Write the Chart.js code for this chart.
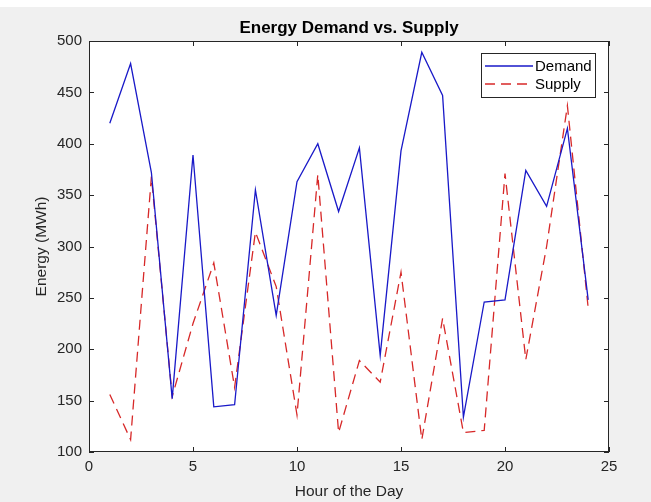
<!DOCTYPE html>
<html>
<head>
<meta charset="utf-8">
<script src="https://cdn.jsdelivr.net/npm/chart.js@4"></script>
<style>
    html, body { margin: 0; padding: 0; background: #ffffff; }
    #wrap { width: 651px; height: 502px; }
</style>
</head>
<body>
<div id="wrap"><canvas id="chart" width="651" height="502"></canvas></div>
<script>
// Data
const hours = [1, 2, 3, 4, 5, 6, 7, 8, 9, 10, 11, 12, 13, 14, 15, 16, 17, 18, 19, 20, 21, 22, 23, 24];
const demand = [420, 478, 372, 152, 389, 144, 146, 355, 233, 363, 400, 334, 396, 194, 393, 489, 447, 134, 246, 248, 374, 339, 415, 248];
const supply = [156, 112, 368, 154, 225, 284, 163, 314, 261, 136, 370, 119, 189, 168, 275, 112, 230, 119, 121, 371, 190, 300, 437, 240];
const xTicks = [0, 5, 10, 15, 20, 25];
const yTicks = [100, 150, 200, 250, 300, 350, 400, 450, 500];

const axisColor = '#262626';
const fontFamily = '"Liberation Sans", Arial, Helvetica, sans-serif';

function toPoints(values) {
    return hours.map((h, i) => ({ x: h, y: values[i] }));
}

// Figure background, axes box, inward ticks, title and legend (MATLAB look)
const matlabFrame = {
    id: 'matlabFrame',
    beforeDraw(chart) {
        const { ctx, width, height, chartArea: a } = chart;
        ctx.save();
        ctx.fillStyle = '#f0f0f0';
        ctx.fillRect(0, 7, width, height - 7);
        ctx.fillStyle = '#ffffff';
        ctx.fillRect(a.left, a.top, a.right - a.left, a.bottom - a.top);
        ctx.restore();
    },
    afterDraw(chart) {
        const { ctx, chartArea: a, scales } = chart;
        ctx.save();
        ctx.strokeStyle = axisColor;
        ctx.lineWidth = 1;
        ctx.strokeRect(a.left + 0.5, a.top + 0.5, a.right - a.left - 1, a.bottom - a.top - 1);

        // inward tick marks
        ctx.beginPath();
        xTicks.forEach(v => {
            const px = Math.round(scales.x.getPixelForValue(v)) + 0.5;
            ctx.moveTo(px, a.bottom); ctx.lineTo(px, a.bottom - 5);
            ctx.moveTo(px, a.top); ctx.lineTo(px, a.top + 5);
        });
        yTicks.forEach(v => {
            const py = Math.round(scales.y.getPixelForValue(v)) + 0.5;
            ctx.moveTo(a.left, py); ctx.lineTo(a.left + 5, py);
            ctx.moveTo(a.right, py); ctx.lineTo(a.right - 5, py);
        });
        ctx.stroke();

        // title centred over the axes
        ctx.fillStyle = '#000000';
        ctx.font = 'bold 17px ' + fontFamily;
        ctx.textAlign = 'center';
        ctx.textBaseline = 'alphabetic';
        ctx.fillText('Energy Demand vs. Supply', (a.left + a.right) / 2, 33);

        // legend box in the top right corner
        const bx = 481, by = 53, bw = 114, bh = 44;
        ctx.fillStyle = '#ffffff';
        ctx.fillRect(bx, by, bw, bh);
        ctx.strokeStyle = axisColor;
        ctx.strokeRect(bx + 0.5, by + 0.5, bw, bh);
        ctx.font = '15px ' + fontFamily;
        ctx.textAlign = 'left';
        ctx.textBaseline = 'middle';
        chart.data.datasets.forEach((ds, i) => {
            const ly = by + 13 + i * 18;
            ctx.beginPath();
            ctx.strokeStyle = ds.borderColor;
            ctx.lineWidth = ds.borderWidth;
            ctx.setLineDash(ds.borderDash || []);
            ctx.moveTo(bx + 4, ly);
            ctx.lineTo(bx + 52, ly);
            ctx.stroke();
            ctx.setLineDash([]);
            ctx.fillStyle = '#000000';
            ctx.fillText(ds.label, bx + 54, ly + 1);
        });
        ctx.restore();
    }
};

new Chart(document.getElementById('chart'), {
    type: 'line',
    data: {
        datasets: [
            {
                label: 'Demand',
                data: toPoints(demand),
                borderColor: 'rgb(25, 25, 200)',
                borderWidth: 1.3,
                pointRadius: 0,
                tension: 0,
                fill: false
            },
            {
                label: 'Supply',
                data: toPoints(supply),
                borderColor: 'rgb(215, 40, 40)',
                borderWidth: 1.3,
                borderDash: [10, 6],
                pointRadius: 0,
                tension: 0,
                fill: false
            }
        ]
    },
    options: {
        responsive: false,
        animation: false,
        layout: { padding: { left: 0, top: 41, right: 42, bottom: 0 } },
        plugins: {
            legend: { display: false },
            title: { display: false },
            tooltip: { enabled: false }
        },
        scales: {
            x: {
                type: 'linear',
                min: 0,
                max: 25,
                afterBuildTicks(scale) { scale.ticks = xTicks.map(v => ({ value: v })); },
                afterFit(scale) { scale.height = 50; },
                grid: { display: false, drawTicks: false },
                border: { display: false },
                ticks: { color: axisColor, padding: 6, font: { family: fontFamily, size: 15 } },
                title: {
                    display: true,
                    text: 'Hour of the Day',
                    color: axisColor,
                    padding: { top: 0, bottom: 1 },
                    font: { family: fontFamily, size: 15.5 }
                }
            },
            y: {
                min: 100,
                max: 500,
                afterBuildTicks(scale) { scale.ticks = yTicks.map(v => ({ value: v })); },
                afterFit(scale) { scale.width = 89; },
                grid: { display: false, drawTicks: false },
                border: { display: false },
                ticks: { color: axisColor, padding: 7, font: { family: fontFamily, size: 15 } },
                title: {
                    display: true,
                    text: 'Energy (MWh)',
                    color: axisColor,
                    padding: { top: 32, bottom: 0 },
                    font: { family: fontFamily, size: 15.5 }
                }
            }
        }
    },
    plugins: [matlabFrame]
});
</script>
</body>
</html>
